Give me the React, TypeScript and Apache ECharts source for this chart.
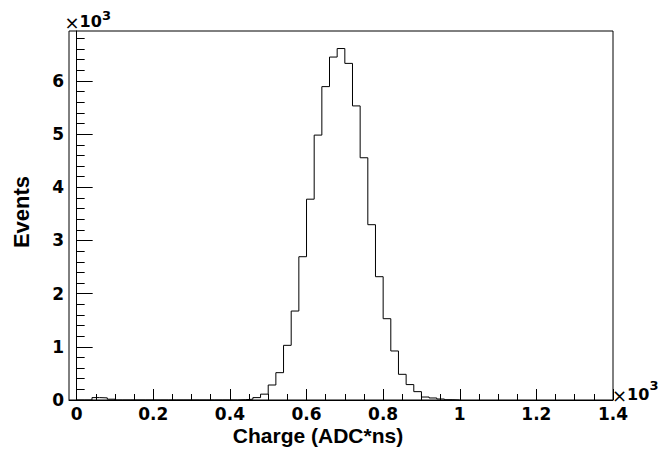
import React, { useEffect, useRef } from "react";
import * as echarts from "echarts";

// Histogram: Charge (ADC*ns), bin width 20, bins starting at 0
const BIN_START = 0;
const BIN_WIDTH = 20;
const counts = [
  0, 0, 45, 40, 15,
  0, 0, 0, 0, 0, 0, 0, 0, 0, 0, 0, 0, 0, 0, 0, 0,
  5, 15, 45, 110, 282, 514, 1028, 1673, 2695, 3777,
  4982, 5894, 6450, 6610, 6331, 5531, 4556, 3297, 2319, 1529,
  922, 483, 290, 157, 56, 38, 19, 5, 0,
];

const X_MIN = -20;
const X_MAX = 1400;
const Y_MIN = 0;
const Y_MAX = 6940;
const xMajorTicks = [0, 200, 400, 600, 800, 1000, 1200, 1400];
const yMajorTicks = [0, 1000, 2000, 3000, 4000, 5000, 6000];

const X_TITLE = "Charge (ADC*ns)";
const Y_TITLE = "Events";

const FONT = "DejaVu Sans";
const TITLE_FONT = "Liberation Sans";

export default function App() {
  const ref = useRef<HTMLDivElement>(null);
  useEffect(() => {
    if (!ref.current) return;
    const chart = echarts.init(ref.current, null, { renderer: "svg" });

    const data: number[][] = counts.map((c, i) => [BIN_START + i * BIN_WIDTH, c]);
    data.push([BIN_START + counts.length * BIN_WIDTH, counts[counts.length - 1]]);

    const xMinor: number[] = [];
    for (let v = 50; v < X_MAX; v += 50) if (v % 200 !== 0) xMinor.push(v);
    const yMinor: number[] = [];
    for (let v = 200; v < Y_MAX; v += 200) if (v % 1000 !== 0) yMinor.push(v);

    const fmt = (v: number) => String(Number((v / 1000).toFixed(1)));

    chart.setOption({
      animation: false,
      backgroundColor: "#fff",
      grid: {
        left: 69,
        right: 46,
        top: 31,
        bottom: 50,
        show: true,
        borderColor: "#000",
        borderWidth: 1,
        outerBoundsMode: "none",
      },
      xAxis: [
        {
          type: "value",
          min: X_MIN,
          max: X_MAX,
          axisLine: { show: true, lineStyle: { color: "#000", width: 1 } },
          axisTick: { show: true, inside: true, length: 11, customValues: xMajorTicks, lineStyle: { color: "#000" } },
          axisLabel: {
            show: true,
            customValues: xMajorTicks,
            formatter: fmt,
            fontFamily: FONT,
            fontWeight: "bold",
            fontSize: 17,
            lineHeight: 16,
            color: "#000",
            margin: 6,
          },
          splitLine: { show: false },
        },
        {
          type: "value",
          min: X_MIN,
          max: X_MAX,
          position: "bottom",
          axisLine: { show: false },
          axisTick: { show: true, inside: true, length: 6, customValues: xMinor, lineStyle: { color: "#000" } },
          axisLabel: { show: false },
          splitLine: { show: false },
        },
      ],
      yAxis: [
        {
          type: "value",
          min: Y_MIN,
          max: Y_MAX,
          axisLine: { show: true, lineStyle: { color: "#000", width: 1 } },
          axisTick: { show: true, inside: true, length: 16, customValues: yMajorTicks, lineStyle: { color: "#000" } },
          axisLabel: {
            show: true,
            customValues: yMajorTicks,
            formatter: fmt,
            fontFamily: FONT,
            fontWeight: "bold",
            fontSize: 17,
            color: "#000",
            margin: 5,
          },
          splitLine: { show: false },
        },
        {
          type: "value",
          min: Y_MIN,
          max: Y_MAX,
          position: "left",
          axisLine: { show: false },
          axisTick: { show: true, inside: true, length: 8, customValues: yMinor, lineStyle: { color: "#000" } },
          axisLabel: { show: false },
          splitLine: { show: false },
        },
      ],
      series: [
        {
          type: "line",
          step: "end",
          xAxisIndex: 0,
          yAxisIndex: 0,
          symbol: "none",
          data,
          lineStyle: { color: "#000", width: 1 },
        },
      ],
      graphic: [
        {
          type: "text",
          x: 21,
          y: 212,
          rotation: Math.PI / 2,
          style: {
            text: Y_TITLE,
            fontFamily: TITLE_FONT,
            fontWeight: "bold",
            fontSize: 22,
            fill: "#000",
            align: "center",
            verticalAlign: "middle",
          },
        },
        {
          type: "text",
          x: 318,
          y: 435,
          style: {
            text: X_TITLE,
            fontFamily: TITLE_FONT,
            fontWeight: "bold",
            fontSize: 21,
            lineHeight: 17,
            fill: "#000",
            align: "center",
            verticalAlign: "middle",
          },
        },
        {
          type: "text",
          x: 79.5,
          y: 22,
          style: { text: "×", fontFamily: FONT, fontSize: 18, fill: "#000", align: "right", verticalAlign: "middle" },
        },
        {
          type: "text",
          x: 79.5,
          y: 21,
          style: { text: "10", fontFamily: FONT, fontWeight: "bold", fontSize: 16, fill: "#000", align: "left", verticalAlign: "middle" },
        },
        {
          type: "text",
          x: 102,
          y: 15,
          style: { text: "3", fontFamily: FONT, fontWeight: "bold", fontSize: 13, fill: "#000", align: "left", verticalAlign: "middle" },
        },
        {
          type: "text",
          x: 627,
          y: 395,
          style: { text: "×", fontFamily: FONT, fontSize: 18, fill: "#000", align: "right", verticalAlign: "middle" },
        },
        {
          type: "text",
          x: 627,
          y: 394,
          style: { text: "10", fontFamily: FONT, fontWeight: "bold", fontSize: 16, fill: "#000", align: "left", verticalAlign: "middle" },
        },
        {
          type: "text",
          x: 649.5,
          y: 385,
          style: { text: "3", fontFamily: FONT, fontWeight: "bold", fontSize: 13, fill: "#000", align: "left", verticalAlign: "middle" },
        },
      ],
    });
    return () => chart.dispose();
  }, []);
  return (
    <div
      ref={ref}
      style={{ position: "fixed", left: 0, top: 0, width: 659, height: 450, background: "#fff" }}
    />
  );
}
